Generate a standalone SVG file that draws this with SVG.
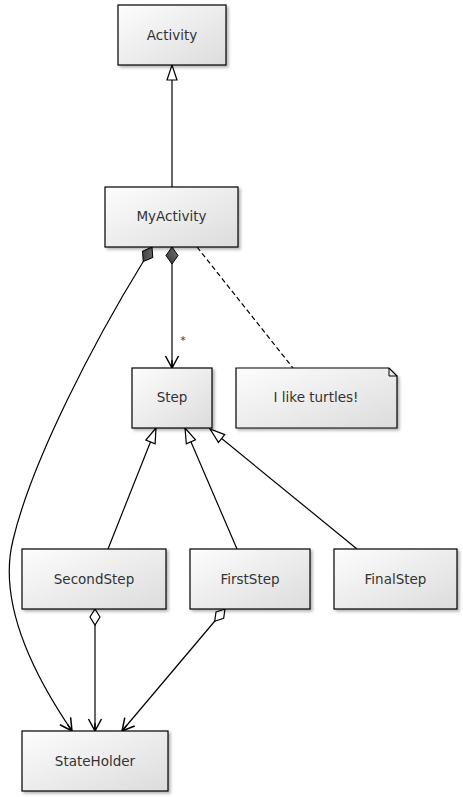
<svg xmlns="http://www.w3.org/2000/svg" width="463" height="797" viewBox="0 0 463 797">
<style>
.box{fill:url(#g);stroke:#000;stroke-width:1.2;filter:url(#sh)}
.t{font-family:"DejaVu Sans",Verdana,sans-serif;font-size:13.5px;fill:#333;text-anchor:middle;dominant-baseline:central}
.c{fill:none;stroke:#000;stroke-width:1.2}
</style>
<defs>
<linearGradient id="g" x1="0" y1="0" x2="1" y2="1">
<stop offset="0" stop-color="#fdfdfd"/>
<stop offset="1" stop-color="#dcdcdc"/>
</linearGradient>
<linearGradient id="dg" x1="0" y1="0" x2="1" y2="1">
<stop offset="0" stop-color="#777"/>
<stop offset="1" stop-color="#333"/>
</linearGradient>
<filter id="sh" x="-10%" y="-10%" width="130%" height="130%">
<feDropShadow dx="2" dy="2" stdDeviation="1.5" flood-color="#000" flood-opacity="0.3"/>
</filter>
<marker id="tri" markerUnits="userSpaceOnUse" markerWidth="20" markerHeight="14" refX="16" refY="7" orient="auto" overflow="visible">
<path d="M16,7 L1,2 L1,12 Z" fill="#fff" stroke="#000" stroke-width="1.2"/>
</marker>
<marker id="arr" markerUnits="userSpaceOnUse" markerWidth="16" markerHeight="16" refX="12" refY="8" orient="auto" overflow="visible">
<path d="M0,1.5 L12,8 L0,14.5 M12,8 L4,8" fill="none" stroke="#000" stroke-width="1.5"/>
</marker>
<marker id="comp" markerUnits="userSpaceOnUse" markerWidth="20" markerHeight="14" refX="0" refY="7" orient="auto" overflow="visible">
<path d="M0,7 L8.5,1 L17,7 L8.5,13 Z" fill="url(#dg)" stroke="#000" stroke-width="1"/>
</marker>
<marker id="agg" markerUnits="userSpaceOnUse" markerWidth="20" markerHeight="14" refX="0" refY="7" orient="auto" overflow="visible">
<path d="M0,7 L8,2 L16,7 L8,12 Z" fill="#fff" stroke="#000" stroke-width="1.2"/>
</marker>
</defs>
<rect width="463" height="797" fill="#fff"/>
<g id="connectors">
<path class="c" d="M172,187 L172,65" marker-end="url(#tri)"/>
<path class="c" d="M172,247 L172,368" marker-start="url(#comp)" marker-end="url(#arr)"/>
<text class="t" x="183" y="340" style="font-size:11px">*</text>
<path class="c" d="M197,247 L293,368" stroke-dasharray="5,3"/>
<path class="c" d="M152,247 L143,262 C 95,340 32,460 13,540 C 3,580 10,640 72,731" marker-start="url(#comp)" marker-end="url(#arr)"/>
<path class="c" d="M108,549 L156,428" marker-end="url(#tri)"/>
<path class="c" d="M237,549 L185,428" marker-end="url(#tri)"/>
<path class="c" d="M357,549 L210,429" marker-end="url(#tri)"/>
<path class="c" d="M95,609 L95,731" marker-start="url(#agg)" marker-end="url(#arr)"/>
<path class="c" d="M225,609 L122,731" marker-start="url(#agg)" marker-end="url(#arr)"/>
</g>
<g id="Activity"><rect class="box" x="118" y="5" width="108" height="60"/><text class="t" x="172" y="35">Activity</text></g>
<g id="MyActivity"><rect class="box" x="105" y="187" width="133" height="60"/><text class="t" x="171.5" y="216">MyActivity</text></g>
<g id="Step"><rect class="box" x="132" y="368" width="80" height="60"/><text class="t" x="172" y="397">Step</text></g>
<g id="Note"><path class="box" d="M236,368 L389,368 L397,376 L397,428 L236,428 Z"/><path d="M389,368 L389,376 L397,376" fill="none" stroke="#000" stroke-width="1"/><text class="t" x="316" y="397">I like turtles!</text></g>
<g id="SecondStep"><rect class="box" x="22" y="549" width="144" height="60"/><text class="t" x="94" y="579">SecondStep</text></g>
<g id="FirstStep"><rect class="box" x="190" y="549" width="120" height="60"/><text class="t" x="250" y="579">FirstStep</text></g>
<g id="FinalStep"><rect class="box" x="334" y="549" width="123" height="60"/><text class="t" x="395.5" y="579">FinalStep</text></g>
<g id="StateHolder"><rect class="box" x="22" y="731" width="146" height="60"/><text class="t" x="95" y="761">StateHolder</text></g>
</svg>
